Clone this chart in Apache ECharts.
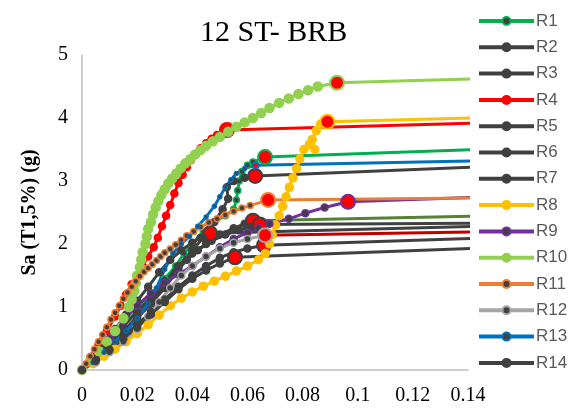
<!DOCTYPE html>
<html>
<head>
<meta charset="utf-8">
<script src="https://cdn.jsdelivr.net/npm/echarts@6/dist/echarts.min.js"></script>
<style>
  html, body { margin: 0; padding: 0; background: #fff; }
  #chart { width: 570px; height: 409px; }
</style>
</head>
<body>
<div id="chart"></div>
<script>
// 各记录的 IDA 曲线 (最后一点为倒塌点)
var names = ['R1','R2','R3','R4','R5','R6','R7','R8','R9','R10','R11','R12','R13','R14'];

var r1x = [0,0.005,0.01,0.015,0.02,0.025,0.03,0.034,0.037,0.04,0.044,0.048,0.052,0.055,0.056,0.0565,0.057,0.058,0.06,0.062,0.0664];
var r1y = [0,0.2,0.45,0.7,0.95,1.2,1.45,1.65,1.85,2.0,2.2,2.35,2.45,2.55,2.7,2.85,3.0,3.15,3.25,3.3,3.38];
var r2x = [0,0.005,0.01,0.015,0.02,0.025,0.03,0.035,0.04,0.045,0.05,0.055,0.059,0.062];
var r2y = [0,0.2,0.4,0.62,0.85,1.1,1.35,1.6,1.85,2.0,2.15,2.25,2.32,2.37];
var r3x = [0,0.005,0.01,0.015,0.02,0.025,0.03,0.034,0.038,0.042,0.047,0.052,0.057,0.061,0.0645];
var r3y = [0,0.18,0.38,0.6,0.82,1.05,1.3,1.55,1.75,1.9,2.05,2.15,2.22,2.27,2.31];
var r4x = [0,0.003,0.006,0.009,0.012,0.014,0.016,0.018,0.02,0.022,0.024,0.026,0.0275,0.029,0.0305,0.032,0.0335,0.035,0.0365,0.038,0.0395,0.041,0.043,0.045,0.047,0.049,0.0526];
var r4y = [0,0.2,0.4,0.62,0.85,1.02,1.2,1.36,1.5,1.65,1.8,1.95,2.1,2.28,2.45,2.62,2.8,2.97,3.1,3.22,3.33,3.42,3.52,3.6,3.67,3.73,3.81];
var r5x = [0,0.004,0.008,0.012,0.016,0.02,0.024,0.028,0.032,0.036,0.04,0.043,0.0465];
var r5y = [0,0.2,0.42,0.65,0.88,1.1,1.32,1.55,1.75,1.9,2.02,2.1,2.17];
var r6x = [0,0.005,0.01,0.015,0.02,0.025,0.03,0.035,0.04,0.045,0.05,0.055,0.06,0.066];
var r6y = [0,0.18,0.36,0.55,0.72,0.92,1.12,1.32,1.5,1.65,1.78,1.87,1.93,1.98];
var r7x = [0,0.005,0.01,0.015,0.02,0.025,0.03,0.035,0.04,0.044,0.048,0.051,0.053,0.0525,0.055,0.059,0.0628];
var r7y = [0,0.22,0.45,0.7,0.92,1.15,1.4,1.65,1.9,2.1,2.35,2.55,2.72,2.9,3.0,3.05,3.08];
var r8x = [0,0.004,0.008,0.012,0.016,0.02,0.024,0.028,0.032,0.036,0.04,0.044,0.048,0.052,0.056,0.06,0.064,0.0665,0.068,0.069,0.0702,0.0715,0.0728,0.074,0.0752,0.0765,0.0778,0.079,0.0805,0.0825,0.0845,0.0835,0.085,0.0865,0.089];
var r8y = [0,0.1,0.22,0.33,0.45,0.58,0.72,0.87,1.02,1.14,1.24,1.33,1.41,1.49,1.57,1.65,1.75,1.85,2.0,2.15,2.3,2.45,2.6,2.75,2.9,3.05,3.2,3.35,3.5,3.58,3.5,3.66,3.8,3.9,3.94];
var r9x = [0,0.005,0.01,0.015,0.02,0.025,0.03,0.035,0.04,0.045,0.05,0.055,0.06,0.064,0.068,0.075,0.081,0.088,0.0965];
var r9y = [0,0.25,0.5,0.78,1.02,1.22,1.38,1.52,1.65,1.8,1.95,2.08,2.18,2.25,2.32,2.4,2.49,2.58,2.67];
var r10x = [0,0.003,0.006,0.009,0.012,0.015,0.017,0.018,0.019,0.0195,0.02,0.021,0.0215,0.022,0.023,0.0235,0.024,0.025,0.0258,0.0267,0.0277,0.0288,0.03,0.0313,0.0327,0.0342,0.0358,0.0375,0.0393,0.041,0.043,0.045,0.0475,0.05,0.053,0.056,0.059,0.062,0.065,0.068,0.0715,0.075,0.0785,0.082,0.0855,0.0925];
var r10y = [0,0.15,0.3,0.45,0.62,0.82,1.0,1.12,1.25,1.38,1.5,1.63,1.75,1.87,2.0,2.12,2.24,2.35,2.47,2.58,2.68,2.78,2.87,2.96,3.04,3.12,3.2,3.28,3.35,3.42,3.49,3.56,3.63,3.7,3.78,3.86,3.93,4.0,4.08,4.16,4.24,4.31,4.38,4.44,4.5,4.56];
var r11x = [0,0.0015,0.003,0.0045,0.006,0.0075,0.009,0.0105,0.012,0.0135,0.015,0.0165,0.018,0.0195,0.021,0.0225,0.024,0.0255,0.027,0.0285,0.03,0.032,0.034,0.036,0.038,0.0405,0.043,0.046,0.049,0.052,0.055,0.058,0.061,0.0675];
var r11y = [0,0.1,0.22,0.33,0.45,0.56,0.68,0.8,0.91,1.02,1.13,1.23,1.32,1.41,1.49,1.56,1.62,1.68,1.74,1.8,1.86,1.92,1.99,2.06,2.13,2.2,2.27,2.34,2.4,2.46,2.52,2.57,2.61,2.7];
var r12x = [0,0.005,0.01,0.015,0.02,0.024,0.028,0.032,0.036,0.04,0.045,0.05,0.055,0.06,0.0664];
var r12y = [0,0.12,0.28,0.45,0.65,0.85,1.08,1.3,1.5,1.65,1.8,1.93,2.02,2.08,2.14];
var r13x = [0,0.004,0.008,0.012,0.016,0.02,0.024,0.027,0.03,0.033,0.036,0.039,0.042,0.045,0.048,0.05,0.052,0.054,0.056,0.059,0.063];
var r13y = [0,0.12,0.28,0.45,0.62,0.82,1.05,1.3,1.6,1.85,2.0,2.12,2.28,2.43,2.6,2.75,2.9,3.02,3.12,3.2,3.25];
var r14x = [0,0.005,0.01,0.015,0.02,0.025,0.03,0.035,0.04,0.045,0.05,0.0555];
var r14y = [0,0.15,0.32,0.5,0.68,0.88,1.08,1.28,1.45,1.58,1.69,1.79];

// 倒塌后水平段末端
var tailEndX = 0.142;
var tailY = [3.5,2.44,2.33,3.92,2.28,2.09,3.22,4.0,2.74,4.62,2.73,2.19,3.32,1.93];

var xTicks = [0,0.02,0.04,0.06,0.08,0.1,0.12,0.14];

var xs = [r1x,r2x,r3x,r4x,r5x,r6x,r7x,r8x,r9x,r10x,r11x,r12x,r13x,r14x];
var ys = [r1y,r2y,r3y,r4y,r5y,r6y,r7y,r8y,r9y,r10y,r11y,r12y,r13y,r14y];

var dark = '#404040';
var lineColors = ['#00B050',dark,dark,'#FF0000',dark,dark,dark,'#FFC000','#7030A0','#92D050','#ED7D31','#A5A5A5','#0070C0',dark];
var markColors = [dark,dark,dark,'#FF0000',dark,dark,dark,'#FFC000',dark,'#92D050',dark,dark,dark,dark];
var tailColors = ['#00B050','#548235',dark,'#FF0000',dark,dark,dark,'#FFC000','#7030A0','#92D050','#ED7D31','#C00000','#0070C0',dark];
var markSizes = [6,7,7,7,7,7,7,8,7,9,6,7,4,7];

var serif = '"Liberation Serif", "DejaVu Serif", serif';

var chart = echarts.init(document.getElementById('chart'));
var series = [];

// 水平段 (先画, 在下层)
for (var i = 0; i < names.length; i++) {
  var n = xs[i].length;
  series.push({
    type: 'line',
    name: names[i] + ' tail',
    data: [[xs[i][n-1], ys[i][n-1]], [tailEndX, tailY[i]]],
    showSymbol: false,
    silent: true,
    clip: false,
    lineStyle: { color: tailColors[i], width: 3 },
    z: 1
  });
}

for (var i = 0; i < names.length; i++) {
  var n = xs[i].length;
  var data = [];
  for (var j = 0; j < n; j++) {
    if (j == n - 1) {
      data.push({
        value: [xs[i][j], ys[i][j]],
        symbolSize: i == 12 ? 6 : 14,
        itemStyle: { color: '#FF0000', borderColor: lineColors[i], borderWidth: 2 }
      });
    } else {
      data.push([xs[i][j], ys[i][j]]);
    }
  }
  series.push({
    type: 'line',
    name: names[i],
    data: data,
    symbol: 'circle',
    symbolSize: markSizes[i],
    showAllSymbol: true,
    color: lineColors[i],
    lineStyle: { color: lineColors[i], width: 3 },
    itemStyle: { color: markColors[i], borderColor: lineColors[i], borderWidth: 1.5, opacity: 1 },
    z: 2
  });
}

var option = {
  animation: false,
  title: {
    text: '12 ST- BRB',
    left: 195,
    top: 13,
    textStyle: { fontFamily: serif, fontWeight: 'normal', fontSize: 30, color: '#000' }
  },
  legend: {
    data: names,
    orient: 'vertical',
    left: 477,
    top: 11,
    padding: 0,
    itemWidth: 55,
    itemHeight: 10,
    itemGap: 6.3,
    lineStyle: { width: 4 },
    textStyle: {
      fontFamily: '"Liberation Sans", Arial, sans-serif', fontSize: 17, color: '#595959',
      lineHeight: 20, padding: [0, 0, 0, -3]
    }
  },
  grid: { left: 82, right: 102, top: 55, bottom: 39 },
  xAxis: {
    type: 'value',
    min: 0,
    max: 0.14,
    interval: 0.02,
    axisLine: { lineStyle: { color: '#BFBFBF', width: 1.5 } },
    axisTick: { show: false },
    splitLine: { show: false },
    axisLabel: {
      fontFamily: serif, fontSize: 20, color: '#000', margin: 16,
      formatter: function (v) {
        var k = xTicks.findIndex(function (t) { return Math.abs(t - v) < 1e-9; });
        return k >= 0 ? String(xTicks[k]) : '';
      }
    }
  },
  yAxis: {
    type: 'value',
    min: 0,
    max: 5,
    interval: 1,
    name: 'Sa (T1,5%) (g)',
    nameLocation: 'middle',
    nameGap: 42,
    nameTextStyle: { fontFamily: serif, fontSize: 20, fontWeight: 'bold', color: '#000' },
    axisLine: { show: true, lineStyle: { color: '#BFBFBF', width: 1.5 } },
    axisTick: { show: false },
    splitLine: { show: false },
    axisLabel: { fontFamily: serif, fontSize: 20, color: '#000', margin: 14 }
  },
  series: series
};

chart.setOption(option);
</script>
</body>
</html>
